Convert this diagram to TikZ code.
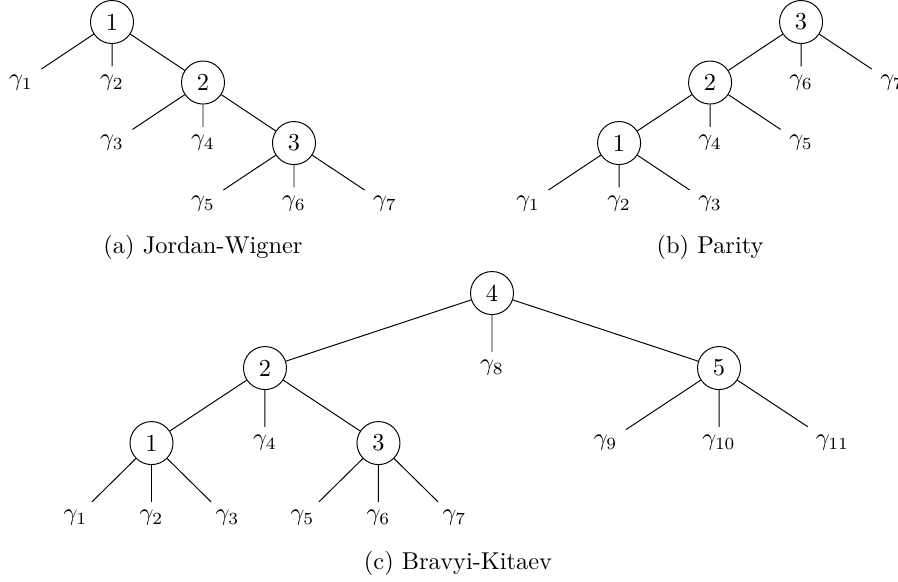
\documentclass[tikz,border=0pt]{standalone}
\usepackage{tikz}
\newcommand{\treeNode}[4]{%%
  %% A numbered node of the tree.
  \node[treeStyle] (#1) at (#2,#3) {#4};
}
\newcommand{\leafNode}[4]{%%
  %% A leaf with its gamma label.
  \node[leafStyle] (#1) at (#2,#3) {$\gamma_{#4}$};
}

\begin{document}
\begin{tikzpicture}[%%
  treeStyle/.style={draw,circle,minimum size=0.62cm,inner sep=1pt},%%
  leafStyle/.style={inner sep=3.33pt},%%
  edgeStyle/.style={-,black}
]
\useasboundingbox (0,0) rectangle (12.939,-8.372);
%%
%%
\pgfmathsetmacro{\dx}{1.311}
\pgfmathsetmacro{\dy}{0.872}
\pgfmathsetmacro{\ax}{1.614}
\pgfmathsetmacro{\ay}{-0.317}
\pgfmathsetmacro{\bx}{11.542}
\pgfmathsetmacro{\by}{-0.317}
%%
%%
%% (a) Jordan-Wigner: a chain going down to the right.
\treeNode{a1}{\ax}{\ay}{1}
\treeNode{a2}{\ax+\dx}{\ay-\dy}{2}
\treeNode{a3}{\ax+2*\dx}{\ay-2*\dy}{3}
\leafNode{a-g1}{\ax-\dx}{\ay-\dy}{1}
\leafNode{a-g2}{\ax}{\ay-\dy}{2}
\leafNode{a-g3}{\ax}{\ay-2*\dy}{3}
\leafNode{a-g4}{\ax+\dx}{\ay-2*\dy}{4}
\leafNode{a-g5}{\ax+\dx}{\ay-3*\dy}{5}
\leafNode{a-g6}{\ax+2*\dx}{\ay-3*\dy}{6}
\leafNode{a-g7}{\ax+3*\dx}{\ay-3*\dy}{7}
\draw[edgeStyle] (a1) -- (a-g1) (a1) -- (a-g2) (a1) -- (a2);
\draw[edgeStyle] (a2) -- (a-g3) (a2) -- (a-g4) (a2) -- (a3);
\draw[edgeStyle] (a3) -- (a-g5) (a3) -- (a-g6) (a3) -- (a-g7);
\node (capA) at (\ax+\dx,-3.559) {(a) Jordan-Wigner};
%%
%% (b) Parity: a chain going down to the left.
\treeNode{b3}{\bx}{\by}{3}
\treeNode{b2}{\bx-\dx}{\by-\dy}{2}
\treeNode{b1}{\bx-2*\dx}{\by-2*\dy}{1}
\leafNode{b-g6}{\bx}{\by-\dy}{6}
\leafNode{b-g7}{\bx+\dx}{\by-\dy}{7}
\leafNode{b-g4}{\bx-\dx}{\by-2*\dy}{4}
\leafNode{b-g5}{\bx}{\by-2*\dy}{5}
\leafNode{b-g1}{\bx-3*\dx}{\by-3*\dy}{1}
\leafNode{b-g2}{\bx-2*\dx}{\by-3*\dy}{2}
\leafNode{b-g3}{\bx-\dx}{\by-3*\dy}{3}
\draw[edgeStyle] (b3) -- (b2) (b3) -- (b-g6) (b3) -- (b-g7);
\draw[edgeStyle] (b2) -- (b1) (b2) -- (b-g4) (b2) -- (b-g5);
\draw[edgeStyle] (b1) -- (b-g1) (b1) -- (b-g2) (b1) -- (b-g3);
\node (capB) at (\bx-\dx,-3.559) {(b) Parity};
%%
%% (c) Bravyi-Kitaev: a balanced tree.
\pgfmathsetmacro{\cx}{7.089}
\pgfmathsetmacro{\cy}{-4.222}
\pgfmathsetmacro{\cdy}{1.081}
\pgfmathsetmacro{\wide}{3.271}
\pgfmathsetmacro{\mid}{1.635}
\pgfmathsetmacro{\small}{1.095}
\treeNode{c4}{\cx}{\cy}{4}
\treeNode{c2}{\cx-\wide}{\cy-\cdy}{2}
\treeNode{c5}{\cx+\wide}{\cy-\cdy}{5}
\treeNode{c1}{\cx-\wide-\mid}{\cy-2*\cdy}{1}
\treeNode{c3}{\cx-\wide+\mid}{\cy-2*\cdy}{3}
\leafNode{c-g8}{\cx}{\cy-\cdy}{8}
\leafNode{c-g4}{\cx-\wide}{\cy-2*\cdy}{4}
\leafNode{c-g1}{\cx-\wide-\mid-\small}{\cy-3*\cdy}{1}
\leafNode{c-g2}{\cx-\wide-\mid}{\cy-3*\cdy}{2}
\leafNode{c-g3}{\cx-\wide-\mid+\small}{\cy-3*\cdy}{3}
\leafNode{c-g5}{\cx-\wide+\mid-\small}{\cy-3*\cdy}{5}
\leafNode{c-g6}{\cx-\wide+\mid}{\cy-3*\cdy}{6}
\leafNode{c-g7}{\cx-\wide+\mid+\small}{\cy-3*\cdy}{7}
\leafNode{c-g9}{\cx+\wide-\mid}{\cy-2*\cdy}{9}
\leafNode{c-g10}{\cx+\wide}{\cy-2*\cdy}{10}
\leafNode{c-g11}{\cx+\wide+\mid}{\cy-2*\cdy}{11}
\draw[edgeStyle] (c4) -- (c2) (c4) -- (c-g8) (c4) -- (c5);
\draw[edgeStyle] (c2) -- (c1) (c2) -- (c-g4) (c2) -- (c3);
\draw[edgeStyle] (c1) -- (c-g1) (c1) -- (c-g2) (c1) -- (c-g3);
\draw[edgeStyle] (c3) -- (c-g5) (c3) -- (c-g6) (c3) -- (c-g7);
\draw[edgeStyle] (c5) -- (c-g9) (c5) -- (c-g10) (c5) -- (c-g11);
\node (capC) at (6.599,-8.112) {(c) Bravyi-Kitaev};
\end{tikzpicture}
\end{document}
